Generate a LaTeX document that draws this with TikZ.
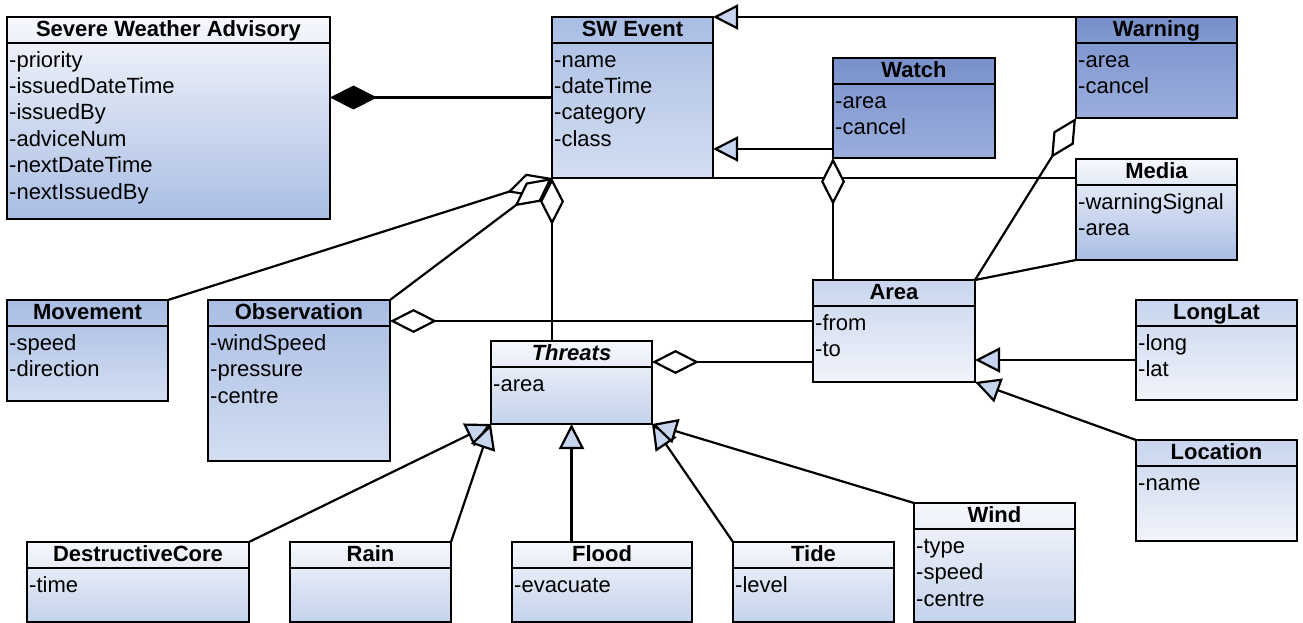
\documentclass[tikz,border=0pt]{standalone}
\usepackage{fontspec}
\setmainfont{Liberation Sans}
\usepackage{xcolor}
\usepackage{tikz}
\usetikzlibrary{arrows.meta}
\usetikzlibrary{positioning,calc}

\definecolor{paleblue}{HTML}{F6F8FC}
\definecolor{midblue}{HTML}{A9BDE4}
\definecolor{lightblue}{HTML}{D3DEF1}
\definecolor{darkblue}{HTML}{7890CB}
\definecolor{duskblue}{HTML}{9BAEDD}
\definecolor{softblue}{HTML}{C8D5EE}
\definecolor{frostblue}{HTML}{F1F4FA}
\definecolor{mistblue}{HTML}{C4D2EC}

\newcommand{\umlfont}{\fontsize{22}{26.4}\selectfont}

\tikzset{
	every node/.append style={font=\umlfont},
	umlclass/.style = {
			draw, line width=2pt,
			anchor=north west, outer sep=0pt, inner sep=0pt,
			path picture={\draw[line width=2pt] ([yshift=-26pt]path picture bounding box.north west) -- ([yshift=-26pt]path picture bounding box.north east);},
		},
	classtitle/.style = {anchor=north, font=\umlfont\bfseries, inner sep=1pt, text height=18pt},
	classattr/.style = {anchor=north west, align=left, text width=200pt, inner sep=2pt, text height=22pt, yshift=-26pt},
	paleclass/.style = {top color=paleblue, bottom color=midblue},
	midclass/.style = {top color=midblue, bottom color=lightblue},
	darkclass/.style = {top color=darkblue, bottom color=duskblue},
	lightclass/.style = {top color=paleblue, bottom color=mistblue},
	softclass/.style = {top color=softblue, bottom color=frostblue},
	link/.style = {line width=2.2pt},
	generalize/.style = {link, -{Triangle[length=25pt, width=25pt, fill=softblue]}},
	aggregate/.style = {link, {Diamond[length=47pt, width=24pt, fill=white]}-},
	compose/.style = {link, {Diamond[length=47pt, width=24pt]}-},
}

\begin{document}
\begin{tikzpicture}[x=1pt, y=-1pt]
		\useasboundingbox (0,0) rectangle (1303,623);

		\node[umlclass, paleclass, minimum width=323pt, minimum height=202pt,
			label={[classtitle]north:Severe Weather Advisory},
			label={[classattr]north west:{-priority\\-issuedDateTime\\-issuedBy\\-adviceNum\\-nextDateTime\\-nextIssuedBy}}] at (7,17) (swa) {};
		\node[umlclass, midclass, minimum width=161pt, minimum height=161pt,
			label={[classtitle]north:SW Event},
			label={[classattr]north west:{-name\\-dateTime\\-category\\-class}}] at (552,17) (swe) {};
		\node[umlclass, darkclass, minimum width=162pt, minimum height=100pt,
			label={[classtitle]north:Watch},
			label={[classattr]north west:{-area\\-cancel}}] at (833,58) (watch) {};
		\node[umlclass, darkclass, minimum width=161pt, minimum height=101pt,
			label={[classtitle]north:Warning},
			label={[classattr]north west:{-area\\-cancel}}] at (1076,17) (warning) {};
		\node[umlclass, paleclass, minimum width=161pt, minimum height=101pt,
			label={[classtitle]north:Media},
			label={[classattr]north west:{-warningSignal\\-area}}] at (1076,159) (media) {};

		\node[umlclass, midclass, minimum width=161pt, minimum height=101pt,
			label={[classtitle]north:Movement},
			label={[classattr]north west:{-speed\\-direction}}] at (7,300) (movement) {};
		\node[umlclass, midclass, minimum width=182pt, minimum height=161pt,
			label={[classtitle]north:Observation},
			label={[classattr]north west:{-windSpeed\\-pressure\\-centre}}] at (208,300) (obs) {};
		\node[umlclass, lightclass, minimum width=161pt, minimum height=83pt,
			label={[classtitle, font=\umlfont\bfseries\itshape]north:Threats},
			label={[classattr]north west:{-area}}] at (491,341) (threats) {};
		\node[umlclass, softclass, minimum width=162pt, minimum height=102pt,
			label={[classtitle]north:Area},
			label={[classattr]north west:{-from\\-to}}] at (813,280) (area) {};
		\node[umlclass, softclass, minimum width=161pt, minimum height=100pt,
			label={[classtitle]north:LongLat},
			label={[classattr]north west:{-long\\-lat}}] at (1136,300) (longlat) {};
		\node[umlclass, softclass, minimum width=161pt, minimum height=101pt,
			label={[classtitle]north:Location},
			label={[classattr]north west:{-name}}] at (1136,440) (location) {};

		\node[umlclass, lightclass, minimum width=222pt, minimum height=80pt,
			label={[classtitle]north:DestructiveCore},
			label={[classattr]north west:{-time}}] at (27,542) (dcore) {};
		\node[umlclass, lightclass, minimum width=161pt, minimum height=80pt,
			label={[classtitle]north:Rain}] at (290,542) (rain) {};
		\node[umlclass, lightclass, minimum width=180pt, minimum height=80pt,
			label={[classtitle]north:Flood},
			label={[classattr]north west:{-evacuate}}] at (512,542) (flood) {};
		\node[umlclass, lightclass, minimum width=161pt, minimum height=80pt,
			label={[classtitle]north:Tide},
			label={[classattr]north west:{-level}}] at (733,542) (tide) {};
		\node[umlclass, lightclass, minimum width=161pt, minimum height=119pt,
			label={[classtitle]north:Wind},
			label={[classattr]north west:{-type\\-speed\\-centre}}] at (914,503) (wind) {};

		\coordinate (watchlink) at ([yshift=9pt]watch.south west);
		\coordinate (obslink) at ([yshift=-21pt]obs.north east);
		\coordinate (threatlink) at ([yshift=-21pt]threats.north east);
		\coordinate (latlink) at ([yshift=-10pt]longlat.west);

		\draw[compose] (swa.east |- swe.west) -- (swe.west);
		\draw[generalize] (warning.north west) -- (swe.north east);
		\draw[generalize] (watchlink) -- (watchlink -| swe.east);
		\draw[aggregate] (swe.south west) -- (movement.north east);
		\draw[aggregate] (swe.south west) -- (obs.north east);
		\draw[aggregate] (swe.south west) -- (swe.south west |- threats.north);
		\draw[link] (swe.south west) -- (swe.south west -| media.west);
		\draw[aggregate] (watch.south west) -- (watch.south west |- area.north);
		\draw[aggregate] (warning.south west) -- (area.north east);
		\draw[link] (area.north east) -- (media.south west);
		\draw[aggregate] (obslink) -- (obslink -| area.west);
		\draw[aggregate] (threatlink) -- (threatlink -| area.west);
		\draw[generalize] (latlink) -- (latlink -| area.east);
		\draw[generalize] (location.north west) -- (area.south east);
		\draw[generalize] (dcore.north east) -- (threats.south west);
		\draw[generalize] (rain.north east) -- (threats.south west);
		\draw[generalize] (threats.south |- flood.north) -- (threats.south);
		\draw[generalize] (tide.north west) -- (threats.south east);
		\draw[generalize] (wind.north west) -- (threats.south east);
	\end{tikzpicture}
\end{document}
